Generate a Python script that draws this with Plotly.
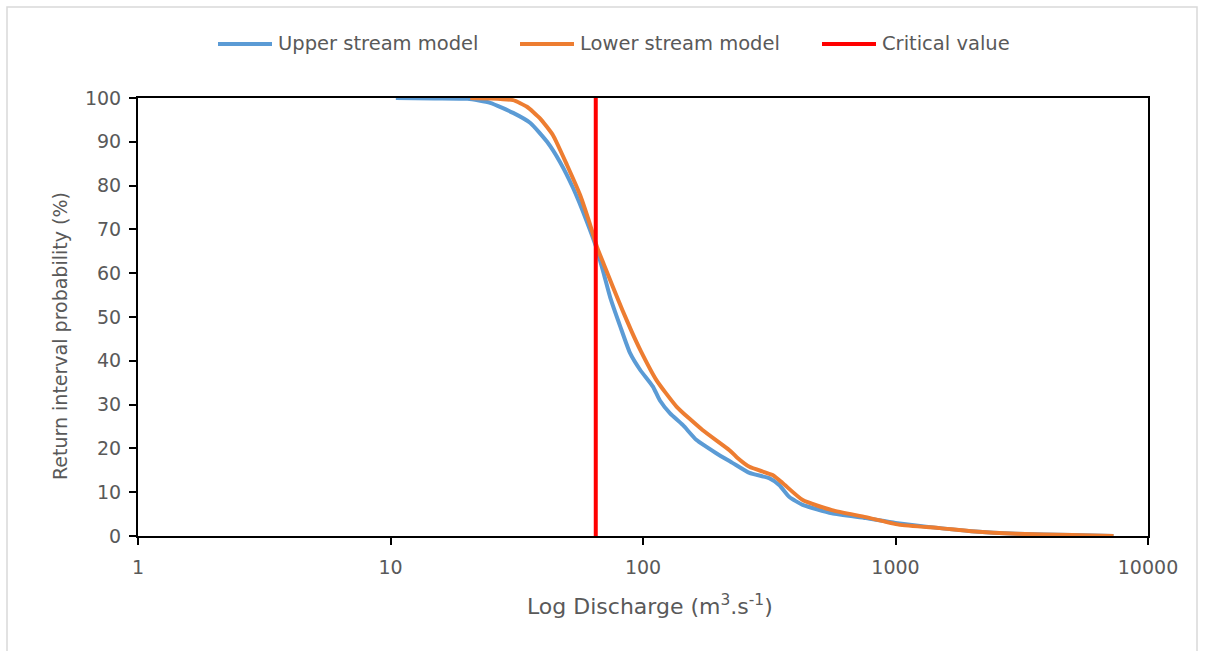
import plotly.graph_objects as go

# Exceedance curves of discharge (m3/s) vs return interval probability (%)
upper_q = [10.5, 15, 20.2, 24.8, 30.6, 35.8, 41.7, 46.9, 52.8, 60, 65.2, 69.6, 74.3,
           81.3, 88.8, 97.5, 109.5, 116.5, 128, 144, 163, 195, 226, 264, 316, 347,
           380, 429, 560, 763, 1000, 1500, 2000, 3000, 5000, 7300]
upper_p = [100, 99.9, 99.8, 98.9, 96.6, 94.3, 90, 85.4, 79.5, 71.7, 66, 60.3, 54.3,
           47.8, 41.8, 37.9, 34.1, 31, 28, 25.3, 21.9, 18.9, 16.7, 14.4, 13.2, 11.6,
           8.9, 7.1, 5.2, 4.1, 3.0, 1.8, 1.1, 0.5, 0.2, 0]

lower_q = [20.7, 25, 30.6, 34.7, 39, 44, 50, 56.3, 61.8, 65.7, 70, 76.3, 83, 90.3,
           97.5, 113, 136, 172, 220, 235, 264, 326, 357, 429, 560, 763, 1030, 1500,
           2000, 3000, 5000, 7300]
lower_p = [100, 99.9, 99.5, 98, 95.4, 91.5, 84.7, 77.9, 71, 66, 62, 56.6, 51.5, 46.6,
           42.5, 35.6, 29.5, 24.2, 19.6, 18, 15.8, 13.9, 12.1, 8.2, 5.9, 4.3, 2.6, 1.8,
           1.1, 0.5, 0.2, 0]

critical_q = 65
critical_p = [0, 100]

x_ticks = [1, 10, 100, 1000, 10000]
y_ticks = [0, 10, 20, 30, 40, 50, 60, 70, 80, 90, 100]

series_names = ["Upper stream model", "Lower stream model", "Critical value"]
series_colors = ["#5B9BD5", "#ED7D31", "#FF0000"]

TEXT = "#595959"
FONT = "DejaVu Sans"

fig = go.Figure()
fig.add_trace(go.Scatter(x=upper_q, y=upper_p, mode="lines", name=series_names[0],
                         line=dict(color=series_colors[0], width=4, shape="spline",
                                   smoothing=0.5)))
fig.add_trace(go.Scatter(x=lower_q, y=lower_p, mode="lines", name=series_names[1],
                         line=dict(color=series_colors[1], width=4, shape="spline",
                                   smoothing=0.5)))
fig.add_trace(go.Scatter(x=[critical_q, critical_q], y=critical_p, mode="lines",
                         name=series_names[2], line=dict(color=series_colors[2], width=4)))

L, R, T, B = 138, 1148, 98, 536
W, H = 1205, 651
pw, ph = R - L, B - T


def px(x):
    return (x - L) / pw


def py(y):
    return (B - y) / ph


shapes = [dict(type="rect", xref="paper", yref="paper",
               x0=px(7), x1=px(1197), y0=py(660), y1=py(7),
               line=dict(color="#D9D9D9", width=1.5), fillcolor="rgba(0,0,0,0)",
               layer="below")]
annotations = []

# Legend row across the top: a line swatch followed by the series name
legend_starts = [218, 520, 822]
for name, color, x0 in zip(series_names, series_colors, legend_starts):
    shapes.append(dict(type="line", xref="paper", yref="paper",
                       x0=px(x0), x1=px(x0 + 54), y0=py(44), y1=py(44),
                       line=dict(color=color, width=4)))
    annotations.append(dict(xref="paper", yref="paper", x=px(x0 + 58), y=py(44),
                            xanchor="left", yanchor="middle", showarrow=False,
                            text=name, font=dict(size=19.5, color=TEXT)))

# Axis titles
annotations.append(dict(xref="paper", yref="paper", x=px(650), y=py(605),
                        xanchor="center", yanchor="middle", showarrow=False,
                        text="Log Discharge (m<sup>3</sup>.s<sup>-1</sup>)",
                        font=dict(size=22, color=TEXT)))
annotations.append(dict(xref="paper", yref="paper", x=px(60), y=py(336),
                        xanchor="center", yanchor="middle", showarrow=False,
                        textangle=-90, text="Return interval probability (%)",
                        font=dict(size=19, color=TEXT)))

fig.update_layout(
    width=W, height=H,
    margin=dict(l=L, r=W - R, t=T, b=H - B),
    paper_bgcolor="white", plot_bgcolor="white",
    font=dict(family=FONT, size=19, color=TEXT),
    showlegend=False,
    xaxis=dict(type="log", range=[0, 4], tickvals=x_ticks,
               ticktext=[str(v) for v in x_ticks],
               showgrid=False, zeroline=False,
               showline=True, linecolor="black", linewidth=2, mirror=True,
               ticks="outside", ticklen=7, tickcolor="black", tickwidth=2,
               ticklabelstandoff=6,
               tickfont=dict(size=19, color=TEXT)),
    yaxis=dict(range=[0, 100], tickvals=y_ticks, showgrid=False, zeroline=False,
               showline=True, linecolor="black", linewidth=2, mirror=True,
               ticks="outside", ticklen=7, tickcolor="black", tickwidth=2,
               ticklabelstandoff=4,
               tickfont=dict(size=19, color=TEXT)),
    shapes=shapes,
    annotations=annotations,
)

fig.write_html("out.html")
